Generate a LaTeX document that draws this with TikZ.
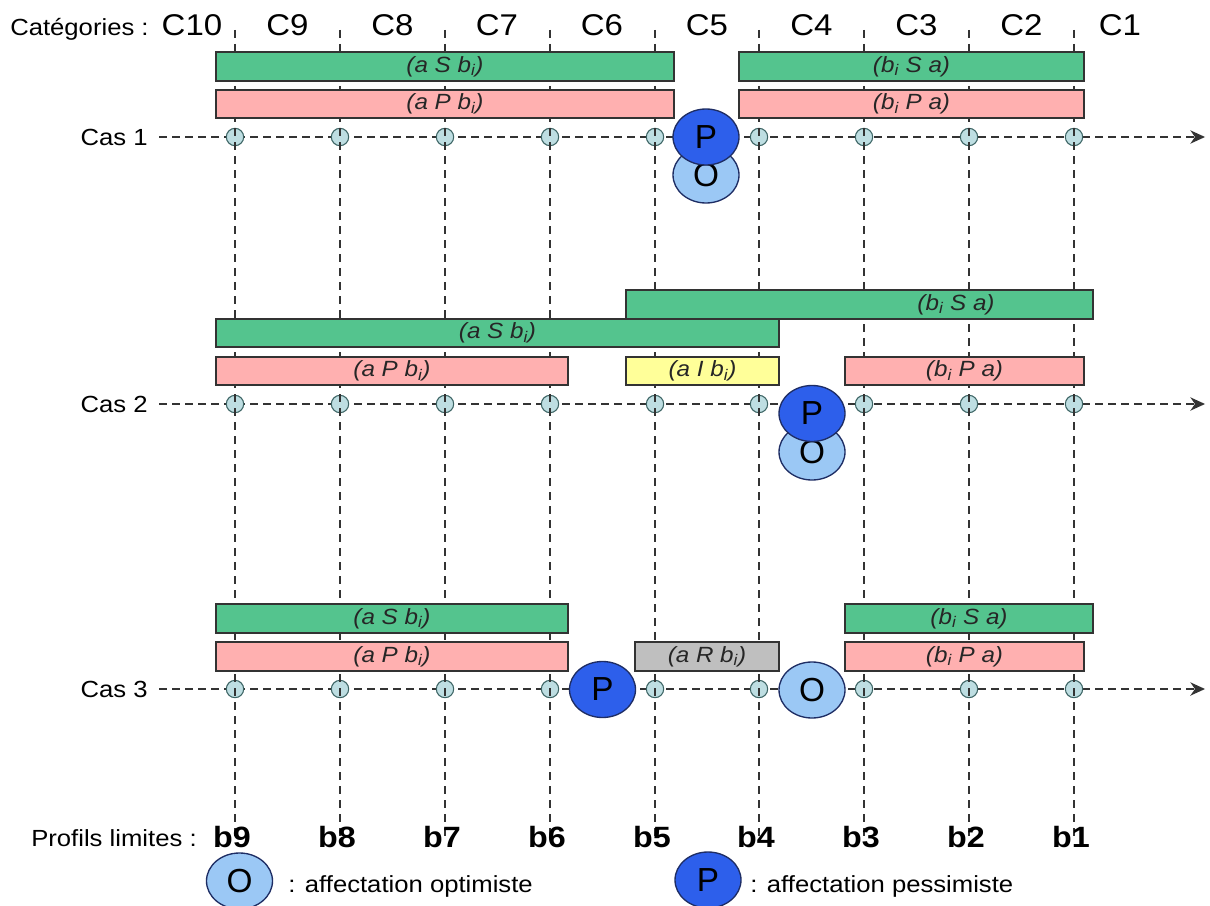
\documentclass[tikz,border=0pt]{standalone}
\usepackage{fontspec}
\setmainfont{Liberation Sans}[FakeStretch=1.1]
\newfontfamily\plainsf{Liberation Sans}
\usetikzlibrary{shapes.geometric,arrows.meta}
\definecolor{barG}{RGB}{84,196,142}
\definecolor{barP}{RGB}{255,176,176}
\definecolor{barY}{RGB}{255,255,153}
\definecolor{barR}{RGB}{191,191,191}
\definecolor{ptfill}{RGB}{190,222,226}
\definecolor{ptline}{RGB}{60,100,100}
\definecolor{Pfill}{RGB}{45,95,235}
\definecolor{Ofill}{RGB}{155,200,245}
\definecolor{ringline}{RGB}{30,45,100}
\tikzset{
  barbox/.style={draw=black!80, line width=0.8pt, inner sep=0pt, outer sep=0pt,
    font=\fontsize{16.5}{18}\selectfont\itshape, text=black!85},
  barlbl/.style={inner sep=0pt, font=\fontsize{16.5}{18}\selectfont\itshape, text=black!85},
  ptnode/.style={circle, draw=ptline, fill=ptfill, line width=0.8pt, minimum size=13pt, inner sep=0pt},
  vdash/.style={draw=black!80, line width=1.1pt, dash pattern=on 6pt off 4.5pt},
  axisline/.style={draw=black!80, line width=1.1pt, dash pattern=on 6pt off 3.75pt,
    -{Stealth[length=11pt,width=10pt,inset=3.5pt]}},
  bigring/.style={ellipse, draw=ringline, line width=1pt, minimum width=49.5pt,
    minimum height=42pt, inner sep=0pt, font=\plainsf\fontsize{25}{25}\selectfont},
  bigP/.style={bigring, fill=Pfill},
  bigO/.style={bigring, fill=Ofill},
  catlbl/.style={anchor=base, inner sep=0pt, font=\fontsize{22.5}{22}\selectfont},
  blbl/.style={anchor=base, inner sep=0pt, font=\fontsize{22}{22}\selectfont\bfseries},
  side/.style={inner sep=0pt, font=\fontsize{17.5}{18}\selectfont},
}
\newcommand\mkbar[7]{\node[barbox, fill=#2, minimum width={(#5-#3)*0.75pt},
  minimum height={(#6-#4)*0.75pt}, anchor=north west] (#1) at (#3,#4) {#7};}
\newcommand\bi{b\textsubscript{i}}
\begin{document}
\begin{tikzpicture}[x=0.75pt, y=-0.75pt]
\useasboundingbox (0,0) rectangle (1210,906);
\fill[white] (0,0) rectangle (1210,906);

% header
\node[side, anchor=base west] (cat) at (10,36) {Catégories :};
\foreach \n/\xx in {10/192,9/287.5,8/392.5,7/497,6/602,5/707,4/811.5,3/916.5,2/1021.5,1/1120}
  \node[catlbl] (C\n) at (\xx,36) {C\n};

% case labels and axes
\foreach \c/\yy in {1/137,2/404,3/689}{
  \node[side, anchor=east] (cas\c) at (148,\yy) {Cas \c};
  \coordinate (as\c) at (159,\yy);
  \coordinate (ae\c) at (1205,\yy);
  \draw[axisline] (as\c) -- (ae\c);
}

% profile points
\foreach \k/\xx in {9/235,8/340,7/445,6/550,5/655,4/759,3/864,2/969,1/1074}{
  \foreach \c/\yy in {1/137,2/404,3/689}
    \node[ptnode] (p\c-\k) at (\xx,\yy) {};
}

% vertical lines and profile labels
\node[side, anchor=base west] (prof) at (31,846) {Profils limites :};
\foreach \k/\xx in {9/235,8/340,7/445,6/550,5/655,4/759,3/864,2/969,1/1074}{
  \coordinate (top\k) at (\xx,30);
  \coordinate (bot\k) at (\xx,842);
  \draw[vdash] (top\k) -- (bot\k);
  \node[blbl] (b\k) at (\xx-3,847) {b\k};
}

% case 1 bars
\mkbar{g1a}{barG}{216}{52}{674}{81}{(a S \bi)}
\mkbar{g1b}{barG}{739}{52}{1084}{81}{(\bi{} S a)}
\mkbar{p1a}{barP}{216}{90}{674}{118}{(a P \bi)}
\mkbar{p1b}{barP}{739}{90}{1084}{118}{(\bi{} P a)}
% case 2 bars
\mkbar{g2b}{barG}{626}{290}{1093}{319}{}
\node[barlbl] (g2bl) at (956,304.5) {(\bi{} S a)};
\mkbar{g2a}{barG}{216}{319}{779}{347}{(a S \bi)}
\mkbar{p2a}{barP}{216}{357}{568}{385}{(a P \bi)}
\mkbar{y2}{barY}{626}{357}{779}{385}{(a I \bi)}
\mkbar{p2b}{barP}{845}{357}{1084}{385}{(\bi{} P a)}
% case 3 bars
\mkbar{g3a}{barG}{216}{604}{568}{633}{(a S \bi)}
\mkbar{p3a}{barP}{216}{642}{568}{671}{(a P \bi)}
\mkbar{r3}{barR}{635}{642}{779}{671}{(a R \bi)}
\mkbar{g3b}{barG}{845}{604}{1093}{633}{(\bi{} S a)}
\mkbar{p3b}{barP}{845}{642}{1084}{671}{(\bi{} P a)}

% assignments
\node[bigO] (O1) at (706,175) {O};
\node[bigP] (P1) at (706,137) {P};
\node[bigO] (O2) at (812,452) {O};
\node[bigP] (P2) at (812,413.5) {P};
\node[bigP] (P3) at (602.5,689.5) {P};
\node[bigO] (O3) at (812,690) {O};

% legend
\node[bigO] (legO) at (239.5,881) {O};
\node[side, anchor=base west] (legOt) at (288,892) {: affectation optimiste};
\node[bigP] (legP) at (708,880) {P};
\node[side, anchor=base west] (legPt) at (750,892) {: affectation pessimiste};
\end{tikzpicture}
\end{document}
